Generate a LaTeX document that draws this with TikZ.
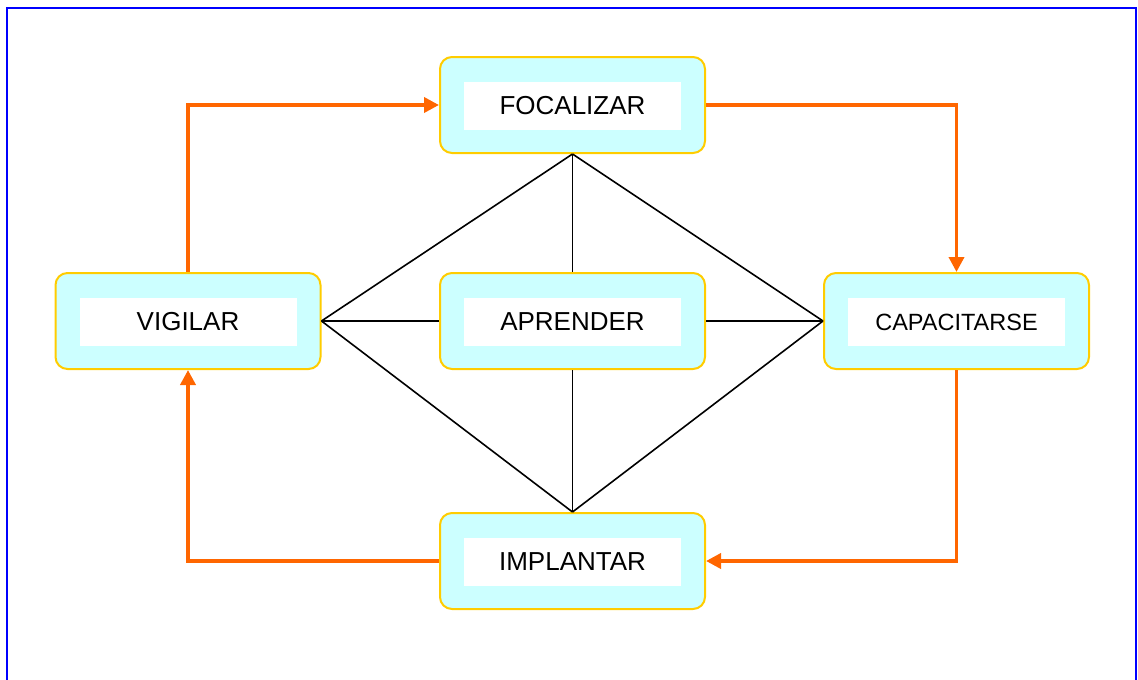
\documentclass[tikz,border=0pt]{standalone}
\usepackage{fontspec}
\setmainfont{Liberation Sans}
\usetikzlibrary{arrows.meta}
\definecolor{boxfill}{HTML}{CCFFFF}
\definecolor{boxline}{HTML}{FFCC00}
\definecolor{arrorange}{HTML}{FF6600}
\definecolor{frameblue}{HTML}{0000FF}
\begin{document}
\begin{tikzpicture}[x=1pt,y=-1pt,
 outerbox/.style={draw=boxline, line width=2pt, fill=boxfill, rounded corners=12pt, minimum width=265pt, minimum height=96pt, inner sep=0pt},
 innerbox/.style={fill=white, minimum width=217pt, minimum height=48pt, inner sep=0pt, font=\fontsize{26}{30}\selectfont},
 flow/.style={draw=arrorange, line width=3.6pt, -{Triangle[length=15pt,width=15pt]}},
 link/.style={draw=black, line width=1.6pt}]
\useasboundingbox (0,0) rectangle (1138,680);
\draw[frameblue, line width=2.5pt] (7,690) -- (7,8) -- (1136,8) -- (1136,690);
% boxes
\node[outerbox] (F) at (572.5,105) {};
\node[innerbox] (Ft) at (572.5,106) {FOCALIZAR};
\node[outerbox] (V) at (188,321) {};
\node[innerbox] (Vt) at (188,322) {VIGILAR};
\node[outerbox] (A) at (572.5,321) {};
\node[innerbox] (At) at (572.5,322) {APRENDER};
\node[outerbox] (C) at (956.5,321) {};
\node[innerbox, font=\fontsize{23.5}{28}\selectfont] (Ct) at (956.5,322) {CAPACITARSE};
\node[outerbox] (I) at (572.5,561) {};
\node[innerbox] (It) at (572.5,562) {IMPLANTAR};
% black links
\draw[link] (F.south) -- (V.east);
\draw[link] (F.south) -- (C.west);
\draw[link] (F.south) -- (A.north);
\draw[link] (I.north) -- (V.east);
\draw[link] (I.north) -- (C.west);
\draw[link] (I.north) -- (A.south);
\draw[link] (V.east) -- (A.west);
\draw[link] (A.east) -- (C.west);
% orange flow
\draw[flow] (V.north) |- (F.west);
\draw[flow] (F.east) -| (C.north);
\draw[flow] (C.south) |- (I.east);
\draw[flow] (I.west) -| (V.south);
\end{tikzpicture}
\end{document}
